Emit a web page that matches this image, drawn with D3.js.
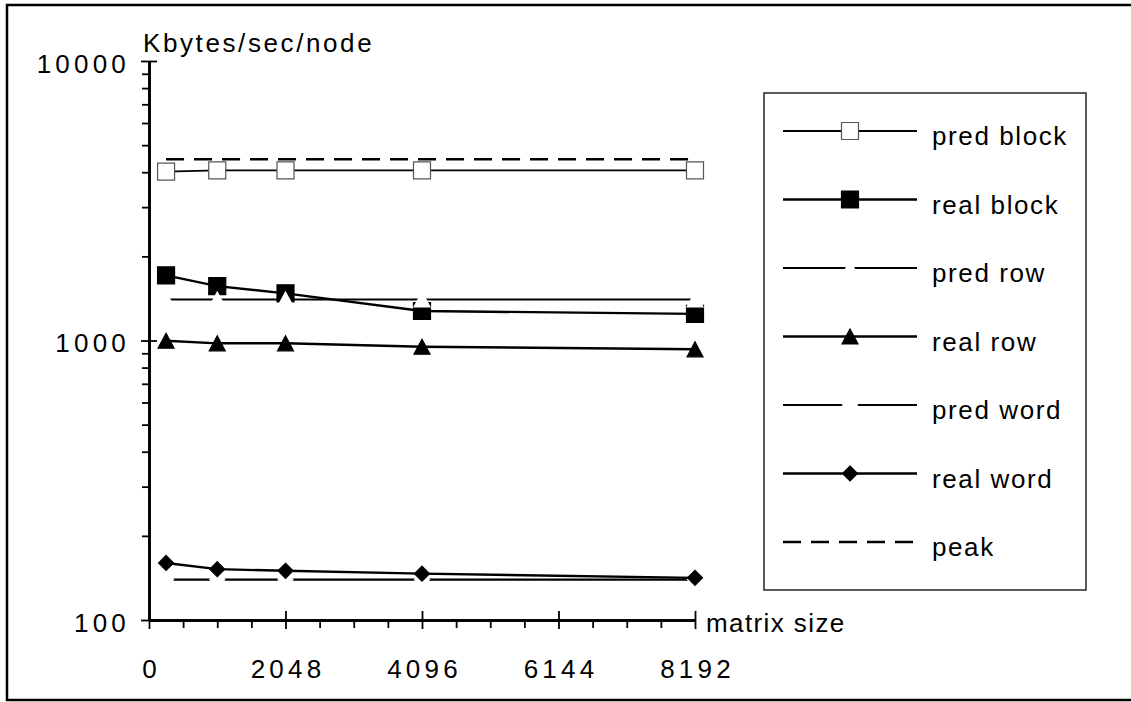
<!DOCTYPE html>
<html>
<head>
<meta charset="utf-8">
<script src="https://cdn.jsdelivr.net/npm/d3@7"></script>
<style>
  body { margin: 0; background: #fff; }
  text { font-family: "Liberation Sans", Arial, sans-serif; font-size: 26px; letter-spacing: 2.6px; fill: #000; }
  .tick text { letter-spacing: 4.2px; }
  .legend text { letter-spacing: 1.6px; }
</style>
</head>
<body>
<svg width="1131" height="702"></svg>
<script>
// matrix sizes (x) and throughput per series (Kbytes/sec/node)
var sizes     = [256, 1024, 2048, 4096, 8192];
var predBlock = [4020, 4060, 4060, 4060, 4060];
var realBlock = [1710, 1565, 1475, 1275, 1245];
var predRow   = [1402, 1402, 1402, 1402, 1402];
var realRow   = [998, 977, 977, 950, 930];
var predWord  = [139.5, 139.5, 139.5, 139.5, 139.5];
var realWord  = [160, 152, 150, 146.5, 141.5];
var peak      = [4450, 4450, 4450, 4450, 4450];

var seriesNames = ["pred block", "real block", "pred row", "real row", "pred word", "real word", "peak"];
var xTicks = [0, 2048, 4096, 6144, 8192];
var yTicks = [100, 1000, 10000];

// styles per series (marker, fill, stroke, line width, dash)
var styles = [
  { marker: "square",   fill: "#fff", stroke: "#555", width: 1.8 },
  { marker: "square",   fill: "#000", stroke: "#000", width: 2.4 },
  { marker: "triangle", fill: "#fff", stroke: "#fff", width: 2.2 },
  { marker: "triangle", fill: "#000", stroke: "#000", width: 2.4 },
  { marker: "diamond",  fill: "#fff", stroke: "#fff", width: 2.2 },
  { marker: "diamond",  fill: "#000", stroke: "#000", width: 2.4 },
  { marker: null, width: 2.4, dash: "18,10" }
];
var values = [predBlock, realBlock, predRow, realRow, predWord, realWord, peak];

var svg = d3.select("svg");

// outer frame
svg.append("rect")
    .attr("x", 7).attr("y", 5)
    .attr("width", 1135).attr("height", 695)
    .attr("fill", "none").attr("stroke", "#000").attr("stroke-width", 2.5);

var x = d3.scaleLinear().domain([0, 8192]).range([149, 695]);
var y = d3.scaleLog().domain([100, 10000]).range([620, 61]);

// minor ticks
var yMinor = [];
[100, 1000].forEach(function(d) { for (var k = 2; k <= 9; k++) yMinor.push(d * k); });
var xMinor = d3.range(512, 8192, 512).filter(function(d) { return d % 2048 !== 0; });

function styleAxis(g) {
  g.selectAll("line").attr("stroke", "#000").attr("stroke-width", 1.8);
  g.selectAll("path").attr("stroke", "#000").attr("stroke-width", 2.4);
  g.attr("font-family", null).attr("font-size", null);
}

// y axis
svg.append("g").attr("transform", "translate(" + x(0) + ",0)")
    .call(d3.axisLeft(y).tickValues(yMinor).tickSize(7).tickSizeOuter(0).tickFormat(""))
    .call(styleAxis);
svg.append("g").attr("transform", "translate(" + x(0) + ",0)")
    .call(d3.axisRight(y).tickValues(yTicks).tickSize(8).tickSizeOuter(0).tickFormat(""))
    .call(styleAxis);
var yAxis = svg.append("g").attr("transform", "translate(" + x(0) + ",0)")
    .call(d3.axisLeft(y).tickValues(yTicks).tickSize(8).tickSizeOuter(0).tickFormat(d3.format("d")))
    .call(styleAxis);
yAxis.selectAll("text").attr("x", -19).attr("dy", "0.44em");

// x axis
svg.append("g").attr("transform", "translate(0," + y(100) + ")")
    .call(d3.axisBottom(x).tickValues(xMinor).tickSize(8).tickSizeOuter(0).tickFormat(""))
    .call(styleAxis);
svg.append("g").attr("transform", "translate(0," + y(100) + ")")
    .call(d3.axisTop(x).tickValues(xTicks.slice(1)).tickSize(9).tickSizeOuter(0).tickFormat(""))
    .call(styleAxis);
var xAxis = svg.append("g").attr("transform", "translate(0," + y(100) + ")")
    .call(d3.axisBottom(x).tickValues(xTicks).tickSize(9).tickSizeOuter(0).tickFormat(d3.format("d")))
    .call(styleAxis);
xAxis.selectAll("text").attr("y", 58).attr("dy", null).attr("dx", 2);

// axis titles
svg.append("text").attr("x", 143).attr("y", 52).text("Kbytes/sec/node");
svg.append("text").attr("x", 706).attr("y", 632).style("letter-spacing", "1.4px").text("matrix size");

// marker shapes
function markerPath(type) {
  if (type === "square") return "M-8.5,-8.5H8.5V8.5H-8.5Z";
  if (type === "triangle") return "M0,-7.5L8,7.5H-8Z";
  if (type === "diamond") return "M0,-7.5L7.5,0L0,7.5L-7.5,0Z";
  return "";
}

var line = d3.line()
    .x(function(d) { return x(d.x); })
    .y(function(d) { return y(d.v); });

values.forEach(function(vals, i) {
  var st = styles[i];
  var pts = vals.map(function(v, j) { return { x: sizes[j], v: v }; });
  svg.append("path")
      .datum(pts)
      .attr("d", line)
      .attr("fill", "none")
      .attr("stroke", "#000")
      .attr("stroke-width", st.width)
      .attr("stroke-dasharray", st.dash || null);
  if (st.marker) {
    svg.selectAll(null)
        .data(pts)
        .enter()
        .append("path")
        .attr("d", markerPath(st.marker))
        .attr("transform", function(d) { return "translate(" + x(d.x) + "," + y(d.v) + ")"; })
        .attr("fill", st.fill)
        .attr("stroke", st.stroke)
        .attr("stroke-width", 1.2);
  }
});

// legend
var legend = svg.append("g").attr("class", "legend");
legend.append("rect")
    .attr("x", 764).attr("y", 93)
    .attr("width", 322).attr("height", 497)
    .attr("fill", "#fff").attr("stroke", "#333").attr("stroke-width", 1.6);

seriesNames.forEach(function(name, i) {
  var st = styles[i];
  var ly = 131 + i * 68.5;
  var row = legend.append("g").attr("transform", "translate(0," + ly + ")");
  row.append("line")
      .attr("x1", 783).attr("x2", 917)
      .attr("stroke", "#000")
      .attr("stroke-width", st.width)
      .attr("stroke-dasharray", st.dash || null);
  if (st.marker) {
    row.append("path")
        .attr("d", markerPath(st.marker))
        .attr("transform", "translate(850,0)")
        .attr("fill", st.fill)
        .attr("stroke", st.stroke)
        .attr("stroke-width", 1.2);
  }
  row.append("text").attr("x", 932).attr("y", 14).text(name);
});
</script>
</body>
</html>
